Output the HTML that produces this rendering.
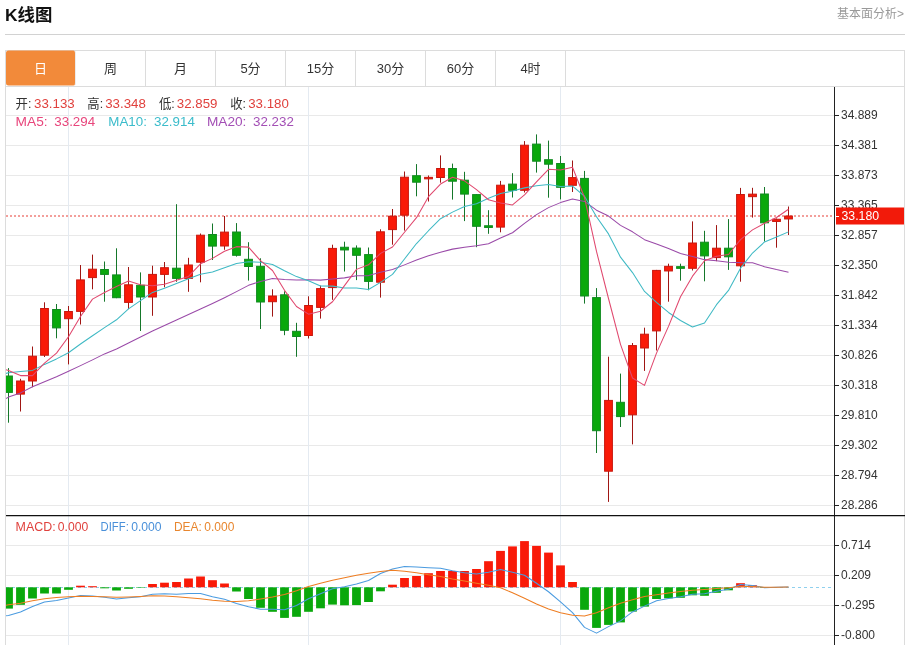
<!DOCTYPE html>
<html lang="zh-CN"><head><meta charset="utf-8"><title>K线图</title>
<style>
html,body{margin:0;padding:0;background:#fff}
body{width:909px;height:645px;position:relative;overflow:hidden;font-family:"Liberation Sans","Noto Sans CJK SC",sans-serif;color:#333}
.title{position:absolute;left:5px;top:3px;font-size:17.4px;font-weight:bold;color:#111;line-height:24px;white-space:nowrap}
.more{position:absolute;right:5px;top:4.5px;font-size:12px;color:#999;line-height:18px;white-space:nowrap}
.hr{position:absolute;left:5px;top:34px;width:900px;height:1px;background:#d2d2d2}
.box{position:absolute;left:5px;top:50px;width:898px;height:700px;border:1px solid #dcdcdc;box-sizing:content-box}
.tabs{position:absolute;left:5px;top:50px;width:898px;height:35px;border:1px solid #dcdcdc;display:flex}
.tab{width:69px;height:35px;border-right:1px solid #dcdcdc;line-height:36px;text-align:center;font-size:13px;color:#333}
.tab.on{background:#f28a3a;color:#fff;border-radius:2.5px;border-right-color:#ececec;transform:translateY(-0.4px)}
</style></head><body>
<div class="title">K线图</div>
<div class="more">基本面分析&gt;</div>
<div class="hr"></div>
<div class="box"></div>
<div class="tabs"><div class="tab on">日</div><div class="tab">周</div><div class="tab">月</div><div class="tab">5分</div><div class="tab">15分</div><div class="tab">30分</div><div class="tab">60分</div><div class="tab">4时</div></div>
<svg width="909" height="558" viewBox="0 87 909 558" style="position:absolute;left:0;top:87px" font-family="'Liberation Sans','Noto Sans CJK SC',sans-serif">
<defs><clipPath id="cp"><rect x="6" y="87" width="828" height="560"/></clipPath></defs>
<path d="M6 115.5H834M6 145.5H834M6 175.5H834M6 205.5H834M6 235.5H834M6 265.5H834M6 295.5H834M6 325.5H834M6 355.5H834M6 385.5H834M6 415.5H834M6 445.5H834M6 475.5H834M6 505.5H834M6 545.5H834M6 575.5H834M6 605.5H834M6 635.5H834" stroke="#e9e9e9" stroke-width="1" fill="none"/>
<path d="M68.5 87V645M308.5 87V645M560.5 87V645" stroke="#e4eaf1" stroke-width="1" fill="none"/>
<path d="M6 587.5H834" stroke="#8fd0ee" stroke-width="1" stroke-dasharray="3 3" fill="none"/>
<g clip-path="url(#cp)">
<path d="M6 216H832" stroke="#f07f7a" stroke-width="1.5" stroke-dasharray="2 2" fill="none"/>
<path d="M8.5 368.1V422.7" stroke="#15772a" stroke-width="1"/>
<rect x="4.6" y="376" width="7.8" height="16.4" fill="#0aa80c" stroke="#108a20" stroke-width="1"/>
<path d="M20.5 378.8V411.5" stroke="#a01613" stroke-width="1"/>
<rect x="16.6" y="381" width="7.8" height="13.1" fill="#f91a08" stroke="#c8170d" stroke-width="1"/>
<path d="M32.5 346.5V387.2" stroke="#a01613" stroke-width="1"/>
<rect x="28.6" y="356.2" width="7.8" height="24.8" fill="#f91a08" stroke="#c8170d" stroke-width="1"/>
<path d="M44.5 302.3V357" stroke="#a01613" stroke-width="1"/>
<rect x="40.6" y="308.5" width="7.8" height="46.7" fill="#f91a08" stroke="#c8170d" stroke-width="1"/>
<path d="M56.5 304V338.3" stroke="#15772a" stroke-width="1"/>
<rect x="52.6" y="309.5" width="7.8" height="18.4" fill="#0aa80c" stroke="#108a20" stroke-width="1"/>
<path d="M68.5 306V364.4" stroke="#a01613" stroke-width="1"/>
<rect x="64.6" y="311.5" width="7.8" height="7.2" fill="#f91a08" stroke="#c8170d" stroke-width="1"/>
<path d="M80.5 265V324.5" stroke="#a01613" stroke-width="1"/>
<rect x="76.6" y="279.9" width="7.8" height="31.5" fill="#f91a08" stroke="#c8170d" stroke-width="1"/>
<path d="M92.5 254.6V289.3" stroke="#a01613" stroke-width="1"/>
<rect x="88.6" y="269.2" width="7.8" height="8.4" fill="#f91a08" stroke="#c8170d" stroke-width="1"/>
<path d="M104.5 261.5V301.7" stroke="#15772a" stroke-width="1"/>
<rect x="100.6" y="269.5" width="7.8" height="4.9" fill="#0aa80c" stroke="#108a20" stroke-width="1"/>
<path d="M116.5 248.3V298.2" stroke="#15772a" stroke-width="1"/>
<rect x="112.6" y="274.9" width="7.8" height="22.8" fill="#0aa80c" stroke="#108a20" stroke-width="1"/>
<path d="M128.5 267V309.1" stroke="#a01613" stroke-width="1"/>
<rect x="124.6" y="284.8" width="7.8" height="17.6" fill="#f91a08" stroke="#c8170d" stroke-width="1"/>
<path d="M140.5 272.4V331" stroke="#15772a" stroke-width="1"/>
<rect x="136.6" y="285.3" width="7.8" height="11.7" fill="#0aa80c" stroke="#108a20" stroke-width="1"/>
<path d="M152.5 265.7V315.8" stroke="#a01613" stroke-width="1"/>
<rect x="148.6" y="274.4" width="7.8" height="22.6" fill="#f91a08" stroke="#c8170d" stroke-width="1"/>
<path d="M164.5 262V287.3" stroke="#a01613" stroke-width="1"/>
<rect x="160.6" y="267.7" width="7.8" height="6.7" fill="#f91a08" stroke="#c8170d" stroke-width="1"/>
<path d="M176.5 204.2V281.8" stroke="#15772a" stroke-width="1"/>
<rect x="172.6" y="268.2" width="7.8" height="10.2" fill="#0aa80c" stroke="#108a20" stroke-width="1"/>
<path d="M188.5 257.8V291.8" stroke="#a01613" stroke-width="1"/>
<rect x="184.6" y="265" width="7.8" height="13.4" fill="#f91a08" stroke="#c8170d" stroke-width="1"/>
<path d="M200.5 233.5V282.3" stroke="#a01613" stroke-width="1"/>
<rect x="196.6" y="235.2" width="7.8" height="27" fill="#f91a08" stroke="#c8170d" stroke-width="1"/>
<path d="M212.5 223.5V260" stroke="#15772a" stroke-width="1"/>
<rect x="208.6" y="234.5" width="7.8" height="11.6" fill="#0aa80c" stroke="#108a20" stroke-width="1"/>
<path d="M224.5 216V249.8" stroke="#a01613" stroke-width="1"/>
<rect x="220.6" y="232.1" width="7.8" height="13.9" fill="#f91a08" stroke="#c8170d" stroke-width="1"/>
<path d="M236.5 223.1V256.6" stroke="#15772a" stroke-width="1"/>
<rect x="232.6" y="232" width="7.8" height="23.3" fill="#0aa80c" stroke="#108a20" stroke-width="1"/>
<path d="M248.5 242.2V280.6" stroke="#15772a" stroke-width="1"/>
<rect x="244.6" y="259.3" width="7.8" height="7.2" fill="#0aa80c" stroke="#108a20" stroke-width="1"/>
<path d="M260.5 258.3V329" stroke="#15772a" stroke-width="1"/>
<rect x="256.6" y="266.3" width="7.8" height="35.7" fill="#0aa80c" stroke="#108a20" stroke-width="1"/>
<path d="M272.5 289.3V316.6" stroke="#a01613" stroke-width="1"/>
<rect x="268.6" y="296" width="7.8" height="5.7" fill="#f91a08" stroke="#c8170d" stroke-width="1"/>
<path d="M284.5 291.3V335.2" stroke="#15772a" stroke-width="1"/>
<rect x="280.6" y="294.8" width="7.8" height="35.5" fill="#0aa80c" stroke="#108a20" stroke-width="1"/>
<path d="M296.5 322.8V356.8" stroke="#15772a" stroke-width="1"/>
<rect x="292.6" y="331.3" width="7.8" height="5.2" fill="#0aa80c" stroke="#108a20" stroke-width="1"/>
<path d="M308.5 296.3V338.5" stroke="#a01613" stroke-width="1"/>
<rect x="304.6" y="305.5" width="7.8" height="30" fill="#f91a08" stroke="#c8170d" stroke-width="1"/>
<path d="M320.5 285.6V318.6" stroke="#a01613" stroke-width="1"/>
<rect x="316.6" y="288.6" width="7.8" height="18.8" fill="#f91a08" stroke="#c8170d" stroke-width="1"/>
<path d="M332.5 244.7V299.8" stroke="#a01613" stroke-width="1"/>
<rect x="328.6" y="248.4" width="7.8" height="39.2" fill="#f91a08" stroke="#c8170d" stroke-width="1"/>
<path d="M344.5 241.7V271.5" stroke="#15772a" stroke-width="1"/>
<rect x="340.6" y="247.25" width="7.8" height="2.7" fill="#0aa80c" stroke="#108a20" stroke-width="1"/>
<path d="M356.5 245.4V280.1" stroke="#15772a" stroke-width="1"/>
<rect x="352.6" y="248.1" width="7.8" height="7.2" fill="#0aa80c" stroke="#108a20" stroke-width="1"/>
<path d="M368.5 247.5V290.3" stroke="#15772a" stroke-width="1"/>
<rect x="364.6" y="254.6" width="7.8" height="26.8" fill="#0aa80c" stroke="#108a20" stroke-width="1"/>
<path d="M380.5 229.3V297.6" stroke="#a01613" stroke-width="1"/>
<rect x="376.6" y="231.8" width="7.8" height="50.4" fill="#f91a08" stroke="#c8170d" stroke-width="1"/>
<path d="M392.5 209V244.7" stroke="#a01613" stroke-width="1"/>
<rect x="388.6" y="216.2" width="7.8" height="13.4" fill="#f91a08" stroke="#c8170d" stroke-width="1"/>
<path d="M404.5 171.5V230.6" stroke="#a01613" stroke-width="1"/>
<rect x="400.6" y="177.2" width="7.8" height="38" fill="#f91a08" stroke="#c8170d" stroke-width="1"/>
<path d="M416.5 164.1V196.3" stroke="#15772a" stroke-width="1"/>
<rect x="412.6" y="175.7" width="7.8" height="6.5" fill="#0aa80c" stroke="#108a20" stroke-width="1"/>
<path d="M428.5 175.5V201.5" stroke="#a01613" stroke-width="1"/>
<rect x="424.6" y="177.35" width="7.8" height="1.5" fill="#f91a08" stroke="#c8170d" stroke-width="1"/>
<path d="M440.5 155.4V182.7" stroke="#a01613" stroke-width="1"/>
<rect x="436.6" y="168.5" width="7.8" height="9" fill="#f91a08" stroke="#c8170d" stroke-width="1"/>
<path d="M452.5 163.6V199.6" stroke="#15772a" stroke-width="1"/>
<rect x="448.6" y="168.5" width="7.8" height="12.7" fill="#0aa80c" stroke="#108a20" stroke-width="1"/>
<path d="M464.5 171.8V221.1" stroke="#15772a" stroke-width="1"/>
<rect x="460.6" y="180.2" width="7.8" height="13.9" fill="#0aa80c" stroke="#108a20" stroke-width="1"/>
<path d="M476.5 194.1V247.2" stroke="#15772a" stroke-width="1"/>
<rect x="472.6" y="194.6" width="7.8" height="31.7" fill="#0aa80c" stroke="#108a20" stroke-width="1"/>
<path d="M488.5 210.2V233.8" stroke="#15772a" stroke-width="1"/>
<rect x="484.6" y="225.75" width="7.8" height="1.7" fill="#0aa80c" stroke="#108a20" stroke-width="1"/>
<path d="M500.5 180.9V232.3" stroke="#a01613" stroke-width="1"/>
<rect x="496.6" y="185.2" width="7.8" height="41.9" fill="#f91a08" stroke="#c8170d" stroke-width="1"/>
<path d="M512.5 173.2V197.5" stroke="#15772a" stroke-width="1"/>
<rect x="508.6" y="184.1" width="7.8" height="6.2" fill="#0aa80c" stroke="#108a20" stroke-width="1"/>
<path d="M524.5 141.1V192.5" stroke="#a01613" stroke-width="1"/>
<rect x="520.6" y="145.2" width="7.8" height="45.1" fill="#f91a08" stroke="#c8170d" stroke-width="1"/>
<path d="M536.5 134.4V172.6" stroke="#15772a" stroke-width="1"/>
<rect x="532.6" y="144.1" width="7.8" height="17.1" fill="#0aa80c" stroke="#108a20" stroke-width="1"/>
<path d="M548.5 140.6V197.7" stroke="#15772a" stroke-width="1"/>
<rect x="544.6" y="159.7" width="7.8" height="4.5" fill="#0aa80c" stroke="#108a20" stroke-width="1"/>
<path d="M560.5 156V199.4" stroke="#15772a" stroke-width="1"/>
<rect x="556.6" y="163.5" width="7.8" height="23.8" fill="#0aa80c" stroke="#108a20" stroke-width="1"/>
<path d="M572.5 160.5V192" stroke="#a01613" stroke-width="1"/>
<rect x="568.6" y="177.6" width="7.8" height="7.7" fill="#f91a08" stroke="#c8170d" stroke-width="1"/>
<path d="M584.5 170.9V303.6" stroke="#15772a" stroke-width="1"/>
<rect x="580.6" y="178.4" width="7.8" height="117.6" fill="#0aa80c" stroke="#108a20" stroke-width="1"/>
<path d="M596.5 288.1V453" stroke="#15772a" stroke-width="1"/>
<rect x="592.6" y="297.6" width="7.8" height="133.1" fill="#0aa80c" stroke="#108a20" stroke-width="1"/>
<path d="M608.5 356.7V501.9" stroke="#a01613" stroke-width="1"/>
<rect x="604.6" y="400.4" width="7.8" height="70.8" fill="#f91a08" stroke="#c8170d" stroke-width="1"/>
<path d="M620.5 373.6V427" stroke="#15772a" stroke-width="1"/>
<rect x="616.6" y="402.3" width="7.8" height="14.3" fill="#0aa80c" stroke="#108a20" stroke-width="1"/>
<path d="M632.5 343V444.4" stroke="#a01613" stroke-width="1"/>
<rect x="628.6" y="345.6" width="7.8" height="69.2" fill="#f91a08" stroke="#c8170d" stroke-width="1"/>
<path d="M644.5 327.7V370.9" stroke="#a01613" stroke-width="1"/>
<rect x="640.6" y="334.2" width="7.8" height="13.8" fill="#f91a08" stroke="#c8170d" stroke-width="1"/>
<path d="M656.5 269.9V350.5" stroke="#a01613" stroke-width="1"/>
<rect x="652.6" y="270.4" width="7.8" height="60.5" fill="#f91a08" stroke="#c8170d" stroke-width="1"/>
<path d="M668.5 263.7V301.7" stroke="#a01613" stroke-width="1"/>
<rect x="664.6" y="266.35" width="7.8" height="4.6" fill="#f91a08" stroke="#c8170d" stroke-width="1"/>
<path d="M680.5 263.7V280.7" stroke="#15772a" stroke-width="1"/>
<rect x="676.6" y="266.65" width="7.8" height="1.7" fill="#0aa80c" stroke="#108a20" stroke-width="1"/>
<path d="M692.5 221.4V270.5" stroke="#a01613" stroke-width="1"/>
<rect x="688.6" y="243" width="7.8" height="25.3" fill="#f91a08" stroke="#c8170d" stroke-width="1"/>
<path d="M704.5 230.8V281.3" stroke="#15772a" stroke-width="1"/>
<rect x="700.6" y="242.2" width="7.8" height="13.7" fill="#0aa80c" stroke="#108a20" stroke-width="1"/>
<path d="M716.5 225.1V261.2" stroke="#a01613" stroke-width="1"/>
<rect x="712.6" y="248.2" width="7.8" height="9.4" fill="#f91a08" stroke="#c8170d" stroke-width="1"/>
<path d="M728.5 219.1V269.9" stroke="#15772a" stroke-width="1"/>
<rect x="724.6" y="248.2" width="7.8" height="8.6" fill="#0aa80c" stroke="#108a20" stroke-width="1"/>
<path d="M740.5 187.9V281.7" stroke="#a01613" stroke-width="1"/>
<rect x="736.6" y="194.5" width="7.8" height="71.3" fill="#f91a08" stroke="#c8170d" stroke-width="1"/>
<path d="M752.5 187.8V217.6" stroke="#a01613" stroke-width="1"/>
<rect x="748.6" y="194.15" width="7.8" height="2.5" fill="#f91a08" stroke="#c8170d" stroke-width="1"/>
<path d="M764.5 187V241.5" stroke="#15772a" stroke-width="1"/>
<rect x="760.6" y="194" width="7.8" height="28.8" fill="#0aa80c" stroke="#108a20" stroke-width="1"/>
<path d="M776.5 218.5V247.7" stroke="#a01613" stroke-width="1"/>
<rect x="772.6" y="219.25" width="7.8" height="2.2" fill="#f91a08" stroke="#c8170d" stroke-width="1"/>
<path d="M788.5 206.5V235" stroke="#a01613" stroke-width="1"/>
<rect x="784.6" y="216.05" width="7.8" height="2.9" fill="#f91a08" stroke="#c8170d" stroke-width="1"/>
<rect x="4.1" y="587.3" width="8.8" height="21.3" fill="#0aa80c"/>
<rect x="16.1" y="587.3" width="8.8" height="17.5" fill="#0aa80c"/>
<rect x="28.1" y="587.3" width="8.8" height="11.2" fill="#0aa80c"/>
<rect x="40.1" y="587.3" width="8.8" height="6.2" fill="#0aa80c"/>
<rect x="52.1" y="587.3" width="8.8" height="6.2" fill="#0aa80c"/>
<rect x="64.1" y="587.3" width="8.8" height="2.5" fill="#0aa80c"/>
<rect x="76.1" y="585.7" width="8.8" height="1.6" fill="#f91a08"/>
<rect x="88.1" y="586.2" width="8.8" height="1.1" fill="#f91a08"/>
<rect x="100.1" y="587.3" width="8.8" height="1" fill="#0aa80c"/>
<rect x="112.1" y="587.3" width="8.8" height="3.2" fill="#0aa80c"/>
<rect x="124.1" y="587.3" width="8.8" height="1.5" fill="#0aa80c"/>
<rect x="136.1" y="587.3" width="8.8" height="0.5" fill="#0aa80c"/>
<rect x="148.1" y="584" width="8.8" height="3.3" fill="#f91a08"/>
<rect x="160.1" y="582.7" width="8.8" height="4.6" fill="#f91a08"/>
<rect x="172.1" y="582" width="8.8" height="5.3" fill="#f91a08"/>
<rect x="184.1" y="578.5" width="8.8" height="8.8" fill="#f91a08"/>
<rect x="196.1" y="576.5" width="8.8" height="10.8" fill="#f91a08"/>
<rect x="208.1" y="580.2" width="8.8" height="7.1" fill="#f91a08"/>
<rect x="220.1" y="583.5" width="8.8" height="3.8" fill="#f91a08"/>
<rect x="232.1" y="587.3" width="8.8" height="4.2" fill="#0aa80c"/>
<rect x="244.1" y="587.3" width="8.8" height="11.7" fill="#0aa80c"/>
<rect x="256.1" y="587.3" width="8.8" height="20.5" fill="#0aa80c"/>
<rect x="268.1" y="587.3" width="8.8" height="24.5" fill="#0aa80c"/>
<rect x="280.1" y="587.3" width="8.8" height="30.6" fill="#0aa80c"/>
<rect x="292.1" y="587.3" width="8.8" height="29.5" fill="#0aa80c"/>
<rect x="304.1" y="587.3" width="8.8" height="24.5" fill="#0aa80c"/>
<rect x="316.1" y="587.3" width="8.8" height="21" fill="#0aa80c"/>
<rect x="328.1" y="587.3" width="8.8" height="17.3" fill="#0aa80c"/>
<rect x="340.1" y="587.3" width="8.8" height="18" fill="#0aa80c"/>
<rect x="352.1" y="587.3" width="8.8" height="17.8" fill="#0aa80c"/>
<rect x="364.1" y="587.3" width="8.8" height="14.7" fill="#0aa80c"/>
<rect x="376.1" y="587.3" width="8.8" height="4" fill="#0aa80c"/>
<rect x="388.1" y="584.7" width="8.8" height="2.6" fill="#f91a08"/>
<rect x="400.1" y="578" width="8.8" height="9.3" fill="#f91a08"/>
<rect x="412.1" y="576" width="8.8" height="11.3" fill="#f91a08"/>
<rect x="424.1" y="573.2" width="8.8" height="14.1" fill="#f91a08"/>
<rect x="436.1" y="571" width="8.8" height="16.3" fill="#f91a08"/>
<rect x="448.1" y="571" width="8.8" height="16.3" fill="#f91a08"/>
<rect x="460.1" y="571" width="8.8" height="16.3" fill="#f91a08"/>
<rect x="472.1" y="569" width="8.8" height="18.3" fill="#f91a08"/>
<rect x="484.1" y="561.2" width="8.8" height="26.1" fill="#f91a08"/>
<rect x="496.1" y="550.9" width="8.8" height="36.4" fill="#f91a08"/>
<rect x="508.1" y="546.4" width="8.8" height="40.9" fill="#f91a08"/>
<rect x="520.1" y="541.1" width="8.8" height="46.2" fill="#f91a08"/>
<rect x="532.1" y="545.9" width="8.8" height="41.4" fill="#f91a08"/>
<rect x="544.1" y="552.6" width="8.8" height="34.7" fill="#f91a08"/>
<rect x="556.1" y="565.4" width="8.8" height="21.9" fill="#f91a08"/>
<rect x="568.1" y="582" width="8.8" height="5.3" fill="#f91a08"/>
<rect x="580.1" y="587.3" width="8.8" height="22.5" fill="#0aa80c"/>
<rect x="592.1" y="587.3" width="8.8" height="40.6" fill="#0aa80c"/>
<rect x="604.1" y="587.3" width="8.8" height="37.6" fill="#0aa80c"/>
<rect x="616.1" y="587.3" width="8.8" height="35.1" fill="#0aa80c"/>
<rect x="628.1" y="587.3" width="8.8" height="24.3" fill="#0aa80c"/>
<rect x="640.1" y="587.3" width="8.8" height="19.3" fill="#0aa80c"/>
<rect x="652.1" y="587.3" width="8.8" height="11.7" fill="#0aa80c"/>
<rect x="664.1" y="587.3" width="8.8" height="11" fill="#0aa80c"/>
<rect x="676.1" y="587.3" width="8.8" height="10.5" fill="#0aa80c"/>
<rect x="688.1" y="587.3" width="8.8" height="8" fill="#0aa80c"/>
<rect x="700.1" y="587.3" width="8.8" height="8.5" fill="#0aa80c"/>
<rect x="712.1" y="587.3" width="8.8" height="5.5" fill="#0aa80c"/>
<rect x="724.1" y="587.3" width="8.8" height="3" fill="#0aa80c"/>
<rect x="736.1" y="583.2" width="8.8" height="4.1" fill="#f91a08"/>
<rect x="748.1" y="585.2" width="8.8" height="2.1" fill="#f91a08"/>
<rect x="760.1" y="587.3" width="8.8" height="0.7" fill="#0aa80c"/>
<path d="M6 398.6L8.5 397.1L20.5 392.9L32.5 386.7L44.5 381.7L56.5 376.8L68.5 371.3L80.5 365.6L92.5 359.9L104.5 353.9L116.5 349L128.5 343L140.5 337L152.5 331L164.5 325.5L176.5 320L188.5 314.5L200.5 309L212.5 303.5L224.5 297.7L236.5 291.63L248.5 285.34L260.5 281.44L272.5 278.43L284.5 279.57L296.5 280L308.5 279.7L320.5 280.13L332.5 279.09L344.5 277.86L356.5 275.74L368.5 275.61L380.5 272.31L392.5 269.39L404.5 264.87L416.5 260.06L428.5 255.69L440.5 252.36L452.5 249.12L464.5 247.27L476.5 245.81L488.5 243.84L500.5 237.96L512.5 232.72L524.5 223.42L536.5 214.65L548.5 207.63L560.5 202.62L572.5 199.08L584.5 201.4L596.5 210.17L608.5 216.07L620.5 225.36L632.5 231.83L644.5 239.68L656.5 244.04L668.5 248.49L680.5 253.52L692.5 256.56L704.5 259.64L716.5 260.69L728.5 262.18L740.5 262.64L752.5 262.8L764.5 266.73L776.5 269.6L788.5 272.16" stroke="#9a4aa8" stroke-width="1.05" fill="none" stroke-linejoin="round"/>
<path d="M6 373.4L8.5 372.8L20.5 371.6L32.5 370.4L44.5 364.4L56.5 358.9L68.5 352.7L80.5 344L92.5 335.8L104.5 327.6L116.5 319.77L128.5 308.91L140.5 300.61L152.5 292.43L164.5 288.35L176.5 283.4L188.5 278.75L200.5 274.28L212.5 272.07L224.5 267.74L236.5 263.5L248.5 261.77L260.5 262.27L272.5 264.43L284.5 270.79L296.5 276.6L308.5 280.65L320.5 285.99L332.5 286.12L344.5 287.97L356.5 287.97L368.5 289.46L380.5 282.34L392.5 274.36L404.5 258.95L416.5 243.52L428.5 230.74L440.5 218.73L452.5 212.11L464.5 206.56L476.5 203.66L488.5 198.23L500.5 193.57L512.5 191.08L524.5 187.88L536.5 185.78L548.5 184.53L560.5 186.51L572.5 186.05L584.5 196.24L596.5 216.68L608.5 233.91L620.5 257.15L632.5 272.58L644.5 291.48L656.5 302.3L668.5 312.45L680.5 320.52L692.5 327.06L704.5 323.05L716.5 304.7L728.5 290.44L740.5 268.13L752.5 253.02L764.5 241.98L776.5 236.9L788.5 231.87" stroke="#3fb9c4" stroke-width="1.05" fill="none" stroke-linejoin="round"/>
<path d="M6 369.8L8.5 370.6L20.5 375.6L32.5 375.6L44.5 363.1L56.5 353.1L68.5 336.72L80.5 316.5L92.5 299.1L104.5 292.48L116.5 286.44L128.5 281.1L140.5 284.72L152.5 285.76L164.5 284.22L176.5 280.36L188.5 276.4L200.5 263.84L212.5 258.38L224.5 251.26L236.5 246.64L248.5 247.14L260.5 260.7L272.5 270.48L284.5 290.32L296.5 306.56L308.5 314.16L320.5 311.28L332.5 301.76L344.5 285.62L356.5 269.38L368.5 264.76L380.5 253.4L392.5 246.96L404.5 232.28L416.5 217.66L428.5 196.72L440.5 184.06L452.5 177.26L464.5 180.84L476.5 189.66L488.5 199.74L500.5 203.08L512.5 204.9L524.5 194.92L536.5 181.9L548.5 169.32L560.5 169.94L572.5 167.2L584.5 197.56L596.5 251.46L608.5 298.5L620.5 344.36L632.5 377.96L644.5 385.4L656.5 353.14L668.5 326.4L680.5 296.68L692.5 276.16L704.5 260.7L716.5 256.26L728.5 254.48L740.5 239.58L752.5 229.88L764.5 223.26L776.5 217.54L788.5 209.26" stroke="#e0486e" stroke-width="1.05" fill="none" stroke-linejoin="round"/>
<path d="M6 615.8L8.5 615.45L20.5 612.05L32.5 606.4L44.5 601.9L56.5 600.6L68.5 598.05L80.5 595.5L92.5 595.95L104.5 597.3L116.5 598.9L128.5 597.75L140.5 596.75L152.5 594.15L164.5 593.7L176.5 594.15L188.5 593.4L200.5 593.4L212.5 596.75L224.5 599.3L236.5 603.6L248.5 606.65L260.5 609.25L272.5 609.25L284.5 609.8L296.5 605.55L308.5 598.75L320.5 593.7L332.5 588.85L344.5 586.7L356.5 584.1L368.5 580.55L380.5 573.5L392.5 568.9L404.5 566.55L416.5 567.05L428.5 567.65L440.5 568.35L452.5 570.85L464.5 572.85L476.5 574.05L488.5 572.15L500.5 569.6L512.5 572.35L524.5 575.2L536.5 583.3L548.5 591.75L560.5 601.85L572.5 612.65L584.5 627.35L596.5 633.1L608.5 626.6L620.5 620.85L632.5 611.95L644.5 606.15L656.5 600.65L668.5 598.5L680.5 596.75L692.5 594.3L704.5 593.75L716.5 591.25L728.5 589.3L740.5 584.45L752.5 585.45L764.5 587.65L776.5 587.3L788.5 587" stroke="#4a9be0" stroke-width="1.05" fill="none" stroke-linejoin="round"/>
<path d="M6 605.3L8.5 604.8L20.5 603.3L32.5 600.8L44.5 598.8L56.5 597.5L68.5 596.8L80.5 596.3L92.5 596.5L104.5 596.8L116.5 597.3L128.5 597L140.5 596.5L152.5 595.8L164.5 596L176.5 596.8L188.5 597.8L200.5 598.8L212.5 600.3L224.5 601.2L236.5 601.5L248.5 600.8L260.5 599L272.5 597L284.5 594.5L296.5 590.8L308.5 586.5L320.5 583.2L332.5 580.2L344.5 577.7L356.5 575.2L368.5 573.2L380.5 571.5L392.5 570.2L404.5 571.2L416.5 572.7L428.5 574.7L440.5 576.5L452.5 579L464.5 581L476.5 583.2L488.5 585.2L500.5 587.8L512.5 592.8L524.5 598.3L536.5 604L548.5 609.1L560.5 612.8L572.5 615.3L584.5 616.1L596.5 612.8L608.5 607.8L620.5 603.3L632.5 599.8L644.5 596.5L656.5 594.8L668.5 593L680.5 591.5L692.5 590.3L704.5 589.5L716.5 588.5L728.5 587.8L740.5 586.5L752.5 586.5L764.5 587.3L776.5 587.3L788.5 587" stroke="#ee7d22" stroke-width="1.05" fill="none" stroke-linejoin="round"/>
</g>
<path d="M834.5 87V645" stroke="#222" stroke-width="1" fill="none"/>
<path d="M6 515.5H905" stroke="#111" stroke-width="1.25" fill="none"/>
<text x="841" y="118.8" font-size="12" fill="#333">34.889</text>
<text x="841" y="148.8" font-size="12" fill="#333">34.381</text>
<text x="841" y="178.8" font-size="12" fill="#333">33.873</text>
<text x="841" y="208.8" font-size="12" fill="#333">33.365</text>
<text x="841" y="238.8" font-size="12" fill="#333">32.857</text>
<text x="841" y="268.8" font-size="12" fill="#333">32.350</text>
<text x="841" y="298.8" font-size="12" fill="#333">31.842</text>
<text x="841" y="328.8" font-size="12" fill="#333">31.334</text>
<text x="841" y="358.8" font-size="12" fill="#333">30.826</text>
<text x="841" y="388.8" font-size="12" fill="#333">30.318</text>
<text x="841" y="418.8" font-size="12" fill="#333">29.810</text>
<text x="841" y="448.8" font-size="12" fill="#333">29.302</text>
<text x="841" y="478.8" font-size="12" fill="#333">28.794</text>
<text x="841" y="508.8" font-size="12" fill="#333">28.286</text>
<text x="841" y="548.8" font-size="12" fill="#333">0.714</text>
<text x="841" y="578.8" font-size="12" fill="#333">0.209</text>
<text x="841" y="608.8" font-size="12" fill="#333">-0.295</text>
<text x="841" y="638.8" font-size="12" fill="#333">-0.800</text>
<path d="M835 115.5H839M835 145.5H839M835 175.5H839M835 205.5H839M835 235.5H839M835 265.5H839M835 295.5H839M835 325.5H839M835 355.5H839M835 385.5H839M835 415.5H839M835 445.5H839M835 475.5H839M835 505.5H839M835 545.5H839M835 575.5H839M835 605.5H839M835 635.5H839" stroke="#222" stroke-width="1" fill="none"/>
<rect x="836" y="207.5" width="68" height="17" fill="#f21a0a"/>
<path d="M836 216.5H839" stroke="#fff" stroke-width="1"/>
<text x="841.5" y="219.8" font-size="12.3" fill="#fff">33.180</text>
<text x="15.6" y="108" font-size="13" fill="#333" textLength="15.8" lengthAdjust="spacingAndGlyphs">开:</text>
<text x="34.1" y="108" font-size="13.5" fill="#e0413d" textLength="40.6" lengthAdjust="spacingAndGlyphs">33.133</text>
<text x="87.3" y="108" font-size="13" fill="#333" textLength="15.8" lengthAdjust="spacingAndGlyphs">高:</text>
<text x="105.2" y="108" font-size="13.5" fill="#e0413d" textLength="40.6" lengthAdjust="spacingAndGlyphs">33.348</text>
<text x="158.9" y="108" font-size="13" fill="#333" textLength="15.8" lengthAdjust="spacingAndGlyphs">低:</text>
<text x="176.8" y="108" font-size="13.5" fill="#e0413d" textLength="40.6" lengthAdjust="spacingAndGlyphs">32.859</text>
<text x="230.2" y="108" font-size="13" fill="#333" textLength="15.8" lengthAdjust="spacingAndGlyphs">收:</text>
<text x="248.2" y="108" font-size="13.5" fill="#e0413d" textLength="40.6" lengthAdjust="spacingAndGlyphs">33.180</text>
<text x="15.6" y="125.6" font-size="13.5" fill="#e8467c" textLength="32" lengthAdjust="spacingAndGlyphs">MA5:</text>
<text x="54.3" y="125.6" font-size="13.5" fill="#e8467c" textLength="40.8" lengthAdjust="spacingAndGlyphs">33.294</text>
<text x="108.3" y="125.6" font-size="13.5" fill="#3bbccb" textLength="38.6" lengthAdjust="spacingAndGlyphs">MA10:</text>
<text x="154" y="125.6" font-size="13.5" fill="#3bbccb" textLength="40.8" lengthAdjust="spacingAndGlyphs">32.914</text>
<text x="207" y="125.6" font-size="13.5" fill="#a34fb5" textLength="39.4" lengthAdjust="spacingAndGlyphs">MA20:</text>
<text x="253" y="125.6" font-size="13.5" fill="#a34fb5" textLength="40.8" lengthAdjust="spacingAndGlyphs">32.232</text>
<text x="15.6" y="531" font-size="12" fill="#e0413d" textLength="40" lengthAdjust="spacingAndGlyphs">MACD:</text>
<text x="57.8" y="531" font-size="12" fill="#e0413d" textLength="30.4" lengthAdjust="spacingAndGlyphs">0.000</text>
<text x="100.6" y="531" font-size="12" fill="#4a90d9" textLength="28.2" lengthAdjust="spacingAndGlyphs">DIFF:</text>
<text x="131.2" y="531" font-size="12" fill="#4a90d9" textLength="30.4" lengthAdjust="spacingAndGlyphs">0.000</text>
<text x="174" y="531" font-size="12" fill="#e8862e" textLength="27.8" lengthAdjust="spacingAndGlyphs">DEA:</text>
<text x="204.3" y="531" font-size="12" fill="#e8862e" textLength="30" lengthAdjust="spacingAndGlyphs">0.000</text>
</svg>
</body></html>
